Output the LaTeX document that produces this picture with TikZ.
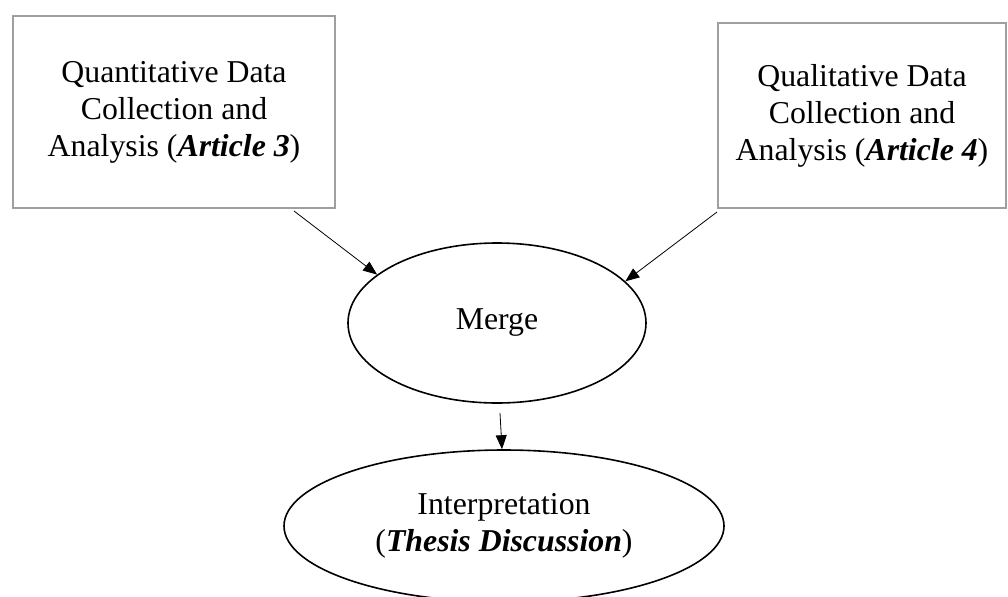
\documentclass[tikz,border=0pt]{standalone}
\usepackage{fontspec}
\setmainfont{Liberation Serif}
\usetikzlibrary{shapes, arrows.meta}

\begin{document}
\begin{tikzpicture}[x=0.5pt, y=-0.5pt, font=\fontsize{15.9}{18.5}\selectfont,
    databox/.style={draw=gray!75, line width=1pt, rectangle, align=center},
    stagebox/.style={draw, line width=0.8pt, ellipse, align=center},
    >={Triangle[length=7pt,width=5.5pt]}]
            \useasboundingbox (0,0) rectangle (1008,596);
            \clip (0,0) rectangle (1008,596);
            \node [databox, minimum width=161pt, minimum height=96pt] (quant) at (174,112) {Quantitative Data\\ Collection and\\ Analysis (\textbf{\textit{Article 3}})};
            \node [databox, minimum width=144pt, minimum height=92.5pt] (qual) at (862,115.5) {Qualitative Data\\ Collection and\\ Analysis (\textbf{\textit{Article 4}})};
            \node [stagebox, minimum width=149pt, minimum height=80pt] (merge) at (497,323) {Merge};
            \node [stagebox, minimum width=220pt, minimum height=76pt] (interp) at (504,526) {Interpretation\\ (\textbf{\textit{Thesis Discussion}})};

            \draw [->] ([xshift=-21pt, yshift=-1pt]quant.south east) -- (merge.158);
            \draw [->] ([yshift=-1.5pt]qual.south west) -- (merge.18);
            \draw [->] ([xshift=1.5pt, yshift=-4.5pt]merge.south) -- ([xshift=-1pt]interp.north);
          \end{tikzpicture}
\end{document}
